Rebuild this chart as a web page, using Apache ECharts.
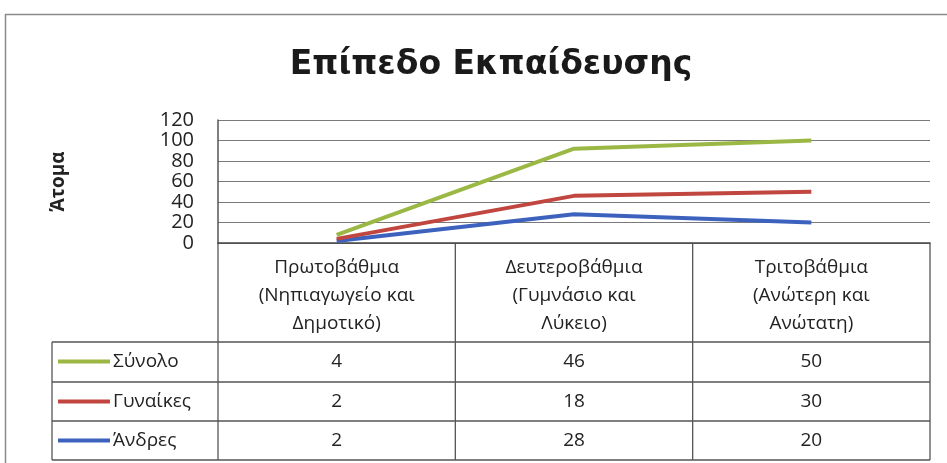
<!DOCTYPE html>
<html><head><meta charset="utf-8">
<script src="https://cdn.jsdelivr.net/npm/echarts@6/dist/echarts.min.js"></script>
<style>html,body{margin:0;padding:0;background:#fff}#c{width:947px;height:463px}</style>
</head><body><div id="c"></div>
<script>
const titleText = 'Επίπεδο Εκπαίδευσης';
const yAxisName = 'Άτομα';
const categories = ['Πρωτοβάθμια\n(Νηπιαγωγείο και\nΔημοτικό)', 'Δευτεροβάθμια\n(Γυμνάσιο και\nΛύκειο)', 'Τριτοβάθμια\n(Ανώτερη και\nΑνώτατη)'];
const seriesNames = ['Σύνολο', 'Γυναίκες', 'Άνδρες'];
const totalValues = [4, 46, 50];
const womenValues = [2, 18, 30];
const menValues = [2, 28, 20];
const yMin = 0, yMax = 120, yStep = 20;
const colors = { 'Σύνολο': '#9BB845', 'Γυναίκες': '#C0463F', 'Άνδρες': '#3D62BE' };
const tableRows = [
  { name: 'Σύνολο', values: totalValues },
  { name: 'Γυναίκες', values: womenValues },
  { name: 'Άνδρες', values: menValues }
];
const FONT = '"Open Sans", "Noto Sans", sans-serif';

const chart = echarts.init(document.getElementById('c'));
const option = {
  backgroundColor: '#fff',
  animation: false,
  title: { text: titleText, left: 486, top: 44, textAlign: 'center',
    textStyle: { fontFamily: '"DejaVu Sans", sans-serif', fontSize: 33, fontWeight: 'bold', color: '#1a1a1a' } },
  grid: { left: 218, right: 17, top: 120, height: 123, containLabel: false },
  xAxis: { type: 'category', data: categories, boundaryGap: true,
    axisLine: { lineStyle: { color: '#444', width: 1.5 } }, axisTick: { show: false },
    axisLabel: { fontFamily: FONT, fontSize: 19, color: '#222', lineHeight: 28, margin: 11, verticalAlign: 'top' } },
  yAxis: { type: 'value', min: yMin, max: yMax, interval: yStep,
    name: yAxisName, nameLocation: 'middle', nameRotate: 90, nameGap: 150,
    nameTextStyle: { fontFamily: FONT, fontSize: 19, fontWeight: 'bold', color: '#222' },
    axisLine: { show: true, lineStyle: { color: '#555', width: 1.5 } }, axisTick: { show: false },
    axisLabel: { fontFamily: FONT, fontSize: 20, color: '#222', margin: 24 },
    splitLine: { lineStyle: { color: '#7a7a7a', width: 1.2 } } },
  series: [
    { name: 'Άνδρες', type: 'line', stack: 'total', data: menValues, showSymbol: false, lineStyle: { width: 4, color: colors['Άνδρες'] }, itemStyle: { color: colors['Άνδρες'] }, z: 3 },
    { name: 'Γυναίκες', type: 'line', stack: 'total', data: womenValues, showSymbol: false, lineStyle: { width: 4, color: colors['Γυναίκες'] }, itemStyle: { color: colors['Γυναίκες'] }, z: 4 },
    { name: 'Σύνολο', type: 'line', stack: 'total', data: totalValues, showSymbol: false, lineStyle: { width: 4, color: colors['Σύνολο'] }, itemStyle: { color: colors['Σύνολο'] }, z: 5 }
  ]
};
chart.setOption(option);

// data table drawn beneath the axis
const c0 = chart.convertToPixel({ xAxisIndex: 0 }, 0);
const c1 = chart.convertToPixel({ xAxisIndex: 0 }, 1);
const colW = c1 - c0;
const left = c0 - colW / 2;
const right = left + colW * categories.length;
const axisY = chart.convertToPixel({ yAxisIndex: 0 }, 0);
const rowTops = [342, 382, 421];
const rowH = 39;
const tableBottom = rowTops[rowTops.length - 1] + rowH;
const legendLeft = 52;
const lc = '#555';
const g = [];
g.push({ type: 'rect', shape: { x: 5.5, y: 14.5, width: 960, height: 470 }, style: { fill: 'none', stroke: '#8a8a8a', lineWidth: 1.5 }, silent: true });
for (let i = 0; i <= categories.length; i++) {
  const x = left + i * colW;
  g.push({ type: 'line', shape: { x1: x, y1: axisY, x2: x, y2: tableBottom }, style: { stroke: lc, lineWidth: 1.3 } });
}
g.push({ type: 'line', shape: { x1: legendLeft, y1: rowTops[0], x2: legendLeft, y2: tableBottom }, style: { stroke: lc, lineWidth: 1.3 } });
rowTops.concat([tableBottom]).forEach(y => {
  g.push({ type: 'line', shape: { x1: legendLeft, y1: y, x2: right, y2: y }, style: { stroke: lc, lineWidth: 1.3 } });
});
tableRows.forEach((row, r) => {
  const cy = rowTops[r] + rowH / 2;
  g.push({ type: 'line', shape: { x1: 58, y1: cy, x2: 110, y2: cy }, style: { stroke: colors[row.name], lineWidth: 4 } });
  g.push({ type: 'text', x: 113, y: cy, style: { text: row.name, fontFamily: FONT, fontSize: 19, fill: '#222', textVerticalAlign: 'middle', textAlign: 'left' } });
  row.values.forEach((v, i) => {
    const cx = chart.convertToPixel({ xAxisIndex: 0 }, i);
    g.push({ type: 'text', x: cx, y: cy, style: { text: String(v), fontFamily: FONT, fontSize: 19, fill: '#222', textVerticalAlign: 'middle', textAlign: 'center' } });
  });
});
chart.setOption({ graphic: g });
</script></body></html>
